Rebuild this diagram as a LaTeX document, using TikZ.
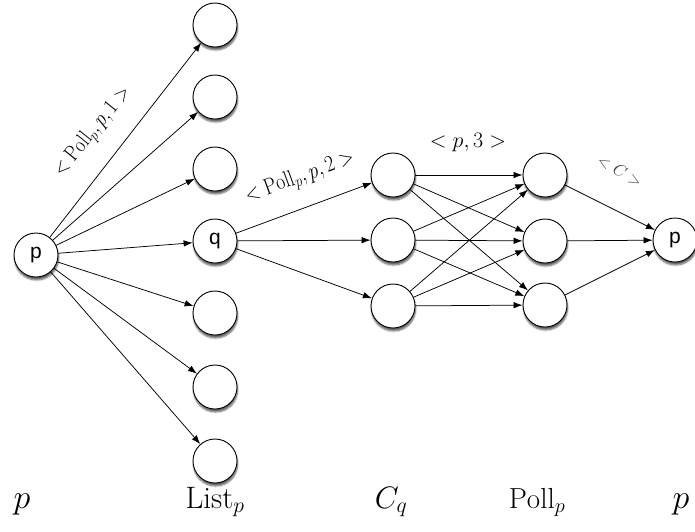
\RequirePackage{fix-cm}
\documentclass[tikz,border=0pt]{standalone}
\usepackage{fontspec}
\newfontfamily\nodefont{Liberation Sans}
\usetikzlibrary{arrows.meta,shadows.blur}
\begin{document}
\begin{tikzpicture}[x=1pt,y=-1pt,
  nd/.style={circle,draw,fill=white,minimum size=44pt,inner sep=0pt,line width=0.9pt,
    font=\nodefont\fontsize{21}{21}\selectfont,
    blur shadow={shadow xshift=0.6pt,shadow yshift=-3pt,shadow blur steps=6,shadow opacity=65}},
  ar/.style={-{Latex[length=9pt,width=6.5pt]},line width=0.75pt},
  lab/.style={font=\fontsize{31}{31}\selectfont,anchor=base,inner sep=0pt},
  elab/.style={font=\fontsize{22}{22}\selectfont,inner sep=0pt}]
\useasboundingbox (0,0) rectangle (695,531);
% left p
\node[nd] (p) at (36,255) {p};
% List_p column
\node[nd] (l1) at (215,25) {};
\node[nd] (l2) at (215,97) {};
\node[nd] (l3) at (215,169) {};
\node[nd] (q)  at (215,241) {q};
\node[nd] (l5) at (215,313) {};
\node[nd] (l6) at (215,387) {};
\node[nd] (l7) at (215,461) {};
% C_q column
\node[nd] (c1) at (393,175) {};
\node[nd] (c2) at (393,240) {};
\node[nd] (c3) at (393,306) {};
% Poll_p column
\node[nd] (r1) at (545,175) {};
\node[nd] (r2) at (545,241) {};
\node[nd] (r3) at (545,305) {};
% right p
\node[nd] (pp) at (675,240) {p};
% edges
\foreach \t in {l1,l2,l3,q,l5,l6,l7} \draw[ar] (p) -- (\t);
\foreach \t in {c1,c2,c3} \draw[ar] (q) -- (\t);
\foreach \s in {c1,c2,c3} \foreach \t in {r1,r2,r3} \draw[ar] (\s) -- (\t);
\foreach \s in {r1,r2,r3} \draw[ar] (\s) -- (pp);
% edge labels
\node[elab,rotate=51,xscale=0.85,font=\fontsize{22}{22}\selectfont] (e1) at (93,132) {$<\mathrm{Poll}_p,p,1>$};
\node[elab,rotate=20,xscale=0.85,font=\fontsize{23}{23}\selectfont] (e2) at (300,178) {$<\mathrm{Poll}_p,p,2>$};
\node[elab] (e3) at (468,143) {$<p,3>$};
\node[elab,rotate=-30,text=black!75,font=\fontsize{17}{17}\selectfont] (e4) at (620,171) {$<C>$};
% column labels
\node[lab,font=\fontsize{34}{34}\selectfont] (bp1) at (22,508) {$p$};
\node[lab] (bl) at (215,508) {$\mathrm{List}_p$};
\node[lab,font=\fontsize{31}{31}\selectfont] (bc) at (391,508) {$C_q$};
\node[lab,font=\fontsize{29}{29}\selectfont] (bpo) at (537,508) {$\mathrm{Poll}_p$};
\node[lab,font=\fontsize{34}{34}\selectfont] (bp2) at (681,508) {$p$};
\end{tikzpicture}
\end{document}
